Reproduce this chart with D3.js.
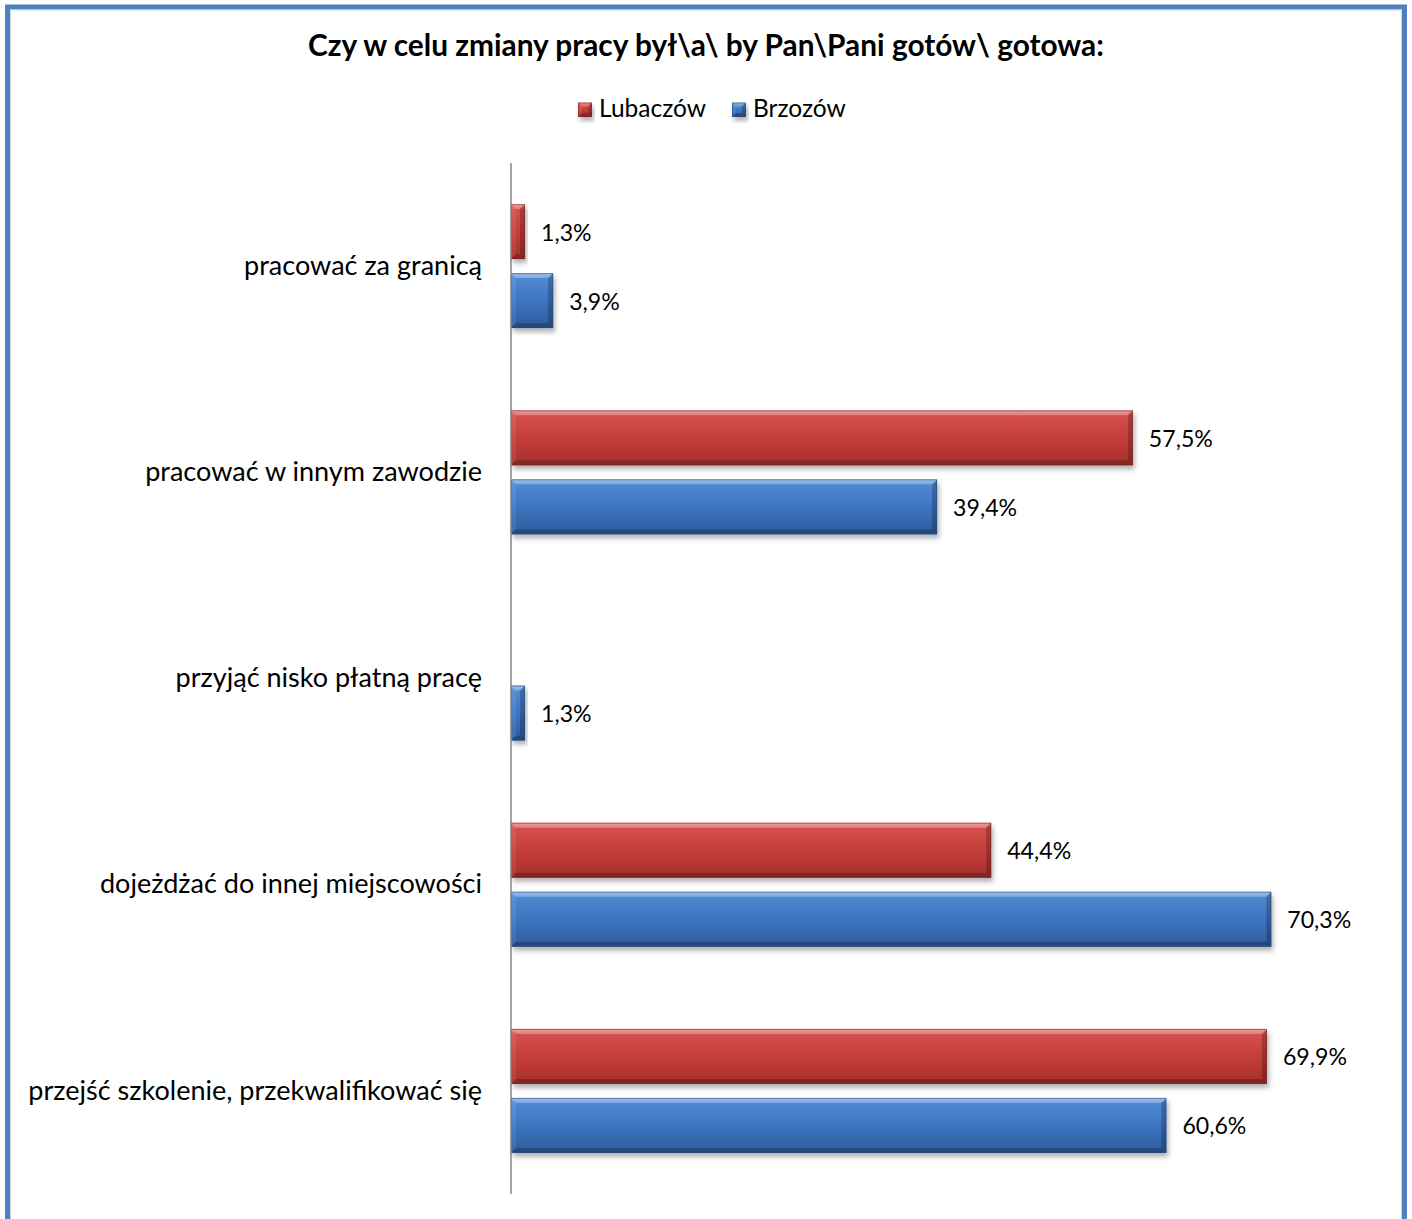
<!DOCTYPE html>
<html>
<head>
<meta charset="utf-8">
<script src="https://cdn.jsdelivr.net/npm/d3@7"></script>
<style>
  html, body { margin: 0; padding: 0; background: #fff; }
  svg { display: block; }
  text { font-family: Lato, "Noto Sans", sans-serif; fill: #000; }
</style>
</head>
<body>
<svg id="chart" width="1412" height="1219"></svg>
<script>
// ---------- DATA ----------
const title = "Czy w celu zmiany pracy był\\a\\ by Pan\\Pani gotów\\ gotowa:";
const categories = [
  "pracować za granicą",
  "pracować w innym zawodzie",
  "przyjąć nisko płatną pracę",
  "dojeżdżać do innej miejscowości",
  "przejść szkolenie, przekwalifikować się"
];
const seriesNames = ["Lubaczów", "Brzozów"];
const lubaczow = [1.3, 57.5, null, 44.4, 69.9];
const brzozow  = [3.9, 39.4, 1.3, 70.3, 60.6];
const xDomain = [0, 80];

// ---------- SETUP ----------
const svg = d3.select("#chart");
const plot = { left: 511, top: 163, bottom: 1194, right: 1376.2 };

const seriesData = [lubaczow, brzozow];
const colors = [
  { top: "#E67C77", hi: "#D4504B", base: "#C53E3A", dark: "#A52F2C", edge: "#7E2422" },
  { top: "#7CAAE6", hi: "#4F88D2", base: "#3D75C1", dark: "#2D5C9C", edge: "#24497C" }
];

const x = d3.scaleLinear().domain(xDomain).range([plot.left, plot.right]);
const y = d3.scaleBand().domain(categories).range([plot.top, plot.bottom])
  .paddingInner(0.3987).paddingOuter(0.3987 / 2);
const ySeries = d3.scaleBand().domain(seriesNames).range([0, y.bandwidth()])
  .paddingInner(0.2029).paddingOuter(0);

// font-size fitting helper: measure text at 100px and scale to a target width
function fitSize(str, weight, targetWidth) {
  const t = svg.append("text").attr("font-size", 100).attr("font-weight", weight).text(str);
  const w = t.node().getComputedTextLength();
  t.remove();
  return 100 * targetWidth / w;
}

const defs = svg.append("defs");
colors.forEach((c, i) => {
  const g = defs.append("linearGradient").attr("id", "grad" + i)
    .attr("x1", 0).attr("y1", 0).attr("x2", 0).attr("y2", 1);
  g.append("stop").attr("offset", "0%").attr("stop-color", c.top);
  g.append("stop").attr("offset", "10%").attr("stop-color", c.hi);
  g.append("stop").attr("offset", "50%").attr("stop-color", c.base);
  g.append("stop").attr("offset", "100%").attr("stop-color", c.dark);
});
const f = defs.append("filter").attr("id", "shadow")
  .attr("x", "-20%").attr("y", "-20%").attr("width", "140%").attr("height", "160%");
f.append("feDropShadow").attr("dx", 2).attr("dy", 4).attr("stdDeviation", 2.5)
  .attr("flood-color", "#000").attr("flood-opacity", 0.3);

// ---------- BORDER ----------
svg.append("rect").attr("x", 7.5).attr("y", 7).attr("width", 1397).attr("height", 1240)
  .attr("fill", "none").attr("stroke", "#4F81BD").attr("stroke-width", 5);
svg.append("rect").attr("x", 10.5).attr("y", 10).attr("width", 1391).attr("height", 1240)
  .attr("fill", "none").attr("stroke", "#C6D6EA").attr("stroke-width", 1);

// ---------- TITLE ----------
const titleSize = fitSize(title, "bold", 796);
svg.append("text").attr("x", 706).attr("y", 56).attr("text-anchor", "middle")
  .attr("font-weight", "bold").attr("font-size", titleSize).text(title);

// ---------- BEVELED BAR ----------
function bevelBar(g, x0, y0, w, h, ci, bevel) {
  const c = colors[ci];
  const grp = g.append("g");
  grp.append("rect").attr("x", x0).attr("y", y0).attr("width", w).attr("height", h)
    .attr("fill", `url(#grad${ci})`).attr("filter", "url(#shadow)");
  const b = Math.min(bevel, w / 2, h / 2);
  const x1 = x0 + w, y1 = y0 + h;
  const poly = (pts, fill, op) => grp.append("polygon")
    .attr("points", pts.map(p => p.join(",")).join(" "))
    .attr("fill", fill).attr("fill-opacity", op);
  poly([[x0, y0], [x1, y0], [x1 - b, y0 + b], [x0 + b, y0 + b]], "#fff", 0.25);
  poly([[x0, y0], [x0 + b, y0 + b], [x0 + b, y1 - b], [x0, y1]], "#fff", 0.08);
  poly([[x1, y0], [x1, y1], [x1 - b, y1 - b], [x1 - b, y0 + b]], "#000", 0.22);
  poly([[x0, y1], [x0 + b, y1 - b], [x1 - b, y1 - b], [x1, y1]], "#000", 0.22);
  grp.append("rect").attr("x", x0 + 0.5).attr("y", y0 + 0.5)
    .attr("width", Math.max(0, w - 1)).attr("height", Math.max(0, h - 1))
    .attr("fill", "none").attr("stroke", c.edge).attr("stroke-opacity", 0.55).attr("stroke-width", 1);
}

// ---------- LEGEND ----------
const legendSize = fitSize("Lubaczów", "normal", 107);
const legendItems = [{ sx: 578, tx: 599 }, { sx: 732, tx: 753 }];
const legend = svg.append("g");
seriesNames.forEach((name, i) => {
  bevelBar(legend, legendItems[i].sx, 102.5, 14, 14.5, i, 4);
  legend.append("text").attr("x", legendItems[i].tx).attr("y", 117)
    .attr("font-size", legendSize).text(name);
});

// ---------- BARS ----------
const barsG = svg.append("g");
const labelSize = fitSize("57,5%", "normal", 64);
const fmt = v => d3.format(".1f")(v).replace(".", ",") + "%";
categories.forEach((cat, ci) => {
  seriesNames.forEach((s, si) => {
    const v = seriesData[si][ci];
    if (v == null) return;
    const y0 = y(cat) + ySeries(s);
    const h = ySeries.bandwidth();
    const w = x(v) - x(0);
    bevelBar(barsG, x(0), y0, w, h, si, 5);
    barsG.append("text").attr("x", x(v) + 16).attr("y", y0 + h / 2)
      .attr("dominant-baseline", "central").attr("font-size", labelSize).text(fmt(v));
  });
});

// ---------- AXIS ----------
const axisG = svg.append("g").attr("transform", `translate(${plot.left},0)`)
  .call(d3.axisLeft(y).tickSize(0).tickPadding(29));
axisG.select(".domain").attr("stroke", "#868686").attr("stroke-width", 1.5)
  .attr("d", `M0,${plot.top}V${plot.bottom}`);
const catSize = fitSize(categories[4], "normal", 454);
axisG.selectAll(".tick text").attr("font-family", "Lato, 'Noto Sans', sans-serif")
  .attr("font-size", catSize).attr("fill", "#000");
</script>
</body>
</html>
